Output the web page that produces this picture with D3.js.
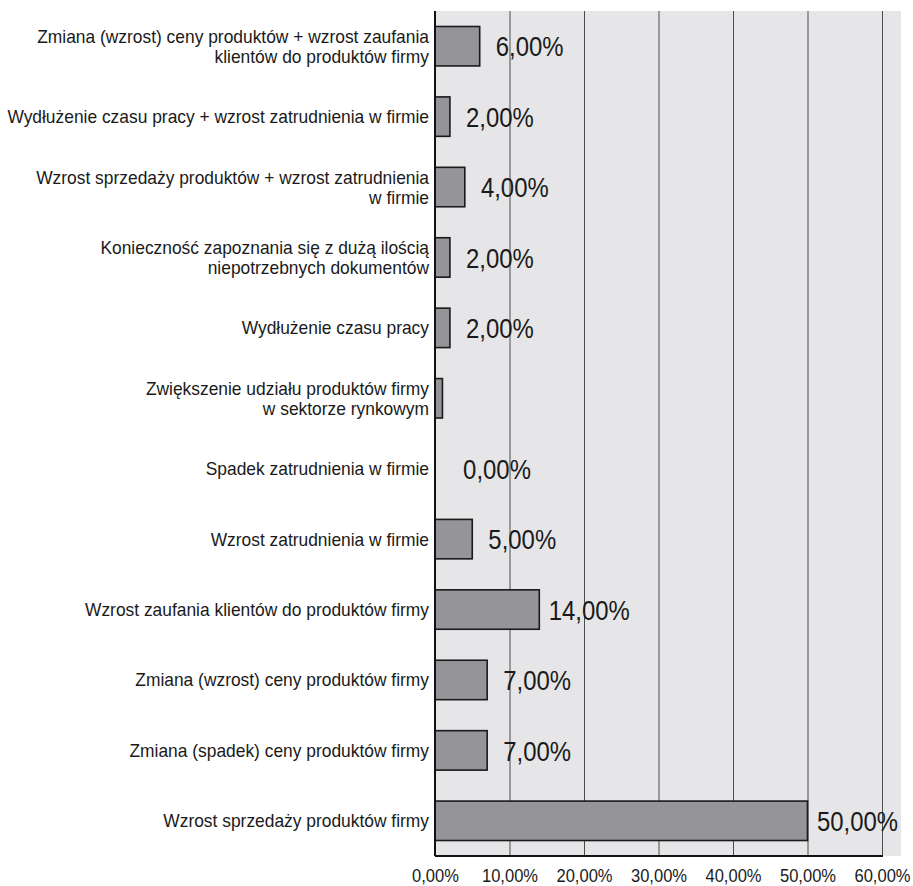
<!DOCTYPE html>
<html>
<head>
<meta charset="utf-8">
<script src="https://cdn.jsdelivr.net/npm/d3@7"></script>
<style>
  html, body { margin: 0; padding: 0; background: #ffffff; }
  svg text { font-family: "Liberation Sans", Arial, sans-serif; fill: #1a1a1a; }
</style>
</head>
<body>
<svg id="chart" width="913" height="886"></svg>
<script>
// Categories (top to bottom); multi-line labels are split with "\n"
const categories = [
  "Zmiana (wzrost) ceny produktów + wzrost zaufania\nklientów do produktów firmy",
  "Wydłużenie czasu pracy + wzrost zatrudnienia w firmie",
  "Wzrost sprzedaży produktów + wzrost zatrudnienia\nw firmie",
  "Konieczność zapoznania się z dużą ilością\nniepotrzebnych dokumentów",
  "Wydłużenie czasu pracy",
  "Zwiększenie udziału produktów firmy\nw sektorze rynkowym",
  "Spadek zatrudnienia w firmie",
  "Wzrost zatrudnienia w firmie",
  "Wzrost zaufania klientów do produktów firmy",
  "Zmiana (wzrost) ceny produktów firmy",
  "Zmiana (spadek) ceny produktów firmy",
  "Wzrost sprzedaży produktów firmy"
];
// Share of answers, percent
const values = [6, 2, 4, 2, 2, 1, 0, 5, 14, 7, 7, 50];
// Value labels printed next to bars (null = no label)
const valueLabels = ["6,00%", "2,00%", "4,00%", "2,00%", "2,00%", null, "0,00%", "5,00%", "14,00%", "7,00%", "7,00%", "50,00%"];
// Axis ticks
const tickValues = [0, 10, 20, 30, 40, 50, 60];
const tickLabels = ["0,00%", "10,00%", "20,00%", "30,00%", "40,00%", "50,00%", "60,00%"];

const svg = d3.select("#chart");
const plot = { left: 435, right: 882, top: 11, bottom: 856, bgRight: 901 };

const x = d3.scaleLinear().domain([0, 60]).range([plot.left, plot.right]);
const y = d3.scaleBand().domain(d3.range(categories.length))
  .range([plot.top, plot.bottom]).paddingInner(0.44).paddingOuter(0.22);

// Condensed lettering: text is squeezed horizontally around its anchor point
const condensed = (sel, k) => sel.attr("transform", function () {
  const p = this.getAttribute("transform") || "";
  return p + ` scale(${k},1)`;
});

// Plot background
svg.append("rect")
  .attr("x", plot.left).attr("y", plot.top)
  .attr("width", plot.bgRight - plot.left).attr("height", plot.bottom - plot.top)
  .attr("fill", "#e6e6e8");

// Vertical gridlines
svg.append("g").selectAll("line").data(tickValues.slice(1)).join("line")
  .attr("x1", d => x(d) + 0.5).attr("x2", d => x(d) + 0.5)
  .attr("y1", plot.top).attr("y2", plot.bottom)
  .attr("stroke", "#4d4d4d").attr("stroke-width", 1);

// Bars
svg.append("g").selectAll("rect").data(values).join("rect")
  .attr("x", x(0))
  .attr("y", (d, i) => y(i))
  .attr("width", d => x(d) - x(0))
  .attr("height", y.bandwidth())
  .attr("fill", "#959599")
  .attr("stroke", "#1a1a1a")
  .attr("stroke-width", 1.6);

// Axis lines (left and bottom)
svg.append("line")
  .attr("x1", plot.left).attr("x2", plot.left)
  .attr("y1", plot.top).attr("y2", plot.bottom)
  .attr("stroke", "#111").attr("stroke-width", 2);
svg.append("line")
  .attr("x1", plot.left).attr("x2", plot.right + 1)
  .attr("y1", plot.bottom).attr("y2", plot.bottom)
  .attr("stroke", "#111").attr("stroke-width", 2);

// Category labels
const catG = svg.append("g");
categories.forEach((c, i) => {
  const lines = c.split("\n");
  const cy = y(i) + y.bandwidth() / 2;
  const lh = 20;
  lines.forEach((ln, k) => {
    catG.append("text")
      .attr("transform", `translate(${plot.left - 6},${cy + (k - (lines.length - 1) / 2) * lh})`)
      .attr("text-anchor", "end")
      .attr("dy", "0.35em")
      .attr("font-size", 18.6)
      .text(ln)
      .call(condensed, 0.935);
  });
});

// Value labels
const valG = svg.append("g");
values.forEach((v, i) => {
  if (valueLabels[i] === null) return;
  valG.append("text")
    .attr("transform", `translate(${Math.max(x(v) + 50, x(0) + 62)},${y(i) + y.bandwidth() / 2})`)
    .attr("dy", "0.36em")
    .attr("text-anchor", "middle")
    .attr("font-size", 28.5)
    .text(valueLabels[i])
    .call(condensed, 0.84);
});

// X axis tick labels
const xAxis = d3.axisBottom(x).tickValues(tickValues)
  .tickFormat((d, i) => tickLabels[i]).tickSize(0).tickPadding(0);
const ax = svg.append("g").attr("transform", `translate(0, ${plot.bottom + 13})`).call(xAxis);
ax.select(".domain").remove();
ax.selectAll("text")
  .attr("font-size", 18)
  .attr("font-family", null)
  .attr("fill", "#1a1a1a")
  .call(condensed, 0.92);
</script>
</body>
</html>
